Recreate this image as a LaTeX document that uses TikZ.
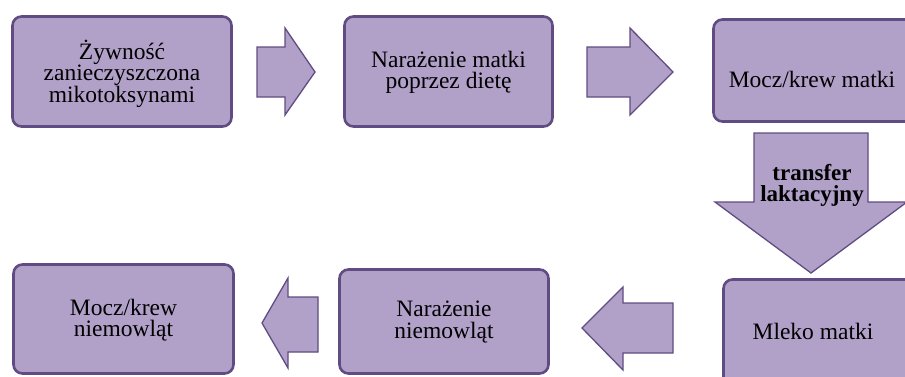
\documentclass[tikz,border=0pt]{standalone}
\usepackage{fontspec}
\setmainfont{Liberation Serif}
\definecolor{boxfill}{RGB}{177,161,201}
\definecolor{boxline}{RGB}{96,76,130}
\begin{document}
\begin{tikzpicture}[x=1pt,y=-1pt,
  box/.style={draw=boxline, line width=2.6pt, fill=boxfill, rounded corners=9pt, inner sep=0pt},
  txt/.style={align=center, inner sep=0pt, font=\fontsize{23.5}{21.5}\selectfont, text=black},
  btxt/.style={align=center, inner sep=0pt, font=\fontsize{23}{21}\selectfont\bfseries, text=black},
  blockarrow/.style={draw=boxline, line width=1.3pt, fill=boxfill, line join=miter}]
\useasboundingbox (0,0) rectangle (905,376);
\clip (0,0) rectangle (905,376);
\fill[white] (0,0) rectangle (905,376);
% boxes
\node[box, minimum width=219pt, minimum height=110pt] (b1) at (122,71.5) {};
\node[box, minimum width=208pt, minimum height=110pt] (b2) at (448.5,71.5) {};
\node[box, minimum width=205pt, minimum height=102pt] (b3) at (816,70.5) {};
\node[box, minimum width=190pt, minimum height=111pt] (b6) at (818.5,335) {};
\node[box, minimum width=209pt, minimum height=104pt] (b5) at (444,321.5) {};
\node[box, minimum width=220pt, minimum height=109pt] (b4) at (123.5,319) {};
% texts
\node[txt] (t1) at (122,73.5) {Żywność\\zanieczyszczona\\mikotoksynami};
\node[txt] (t2) at (448.5,72.5) {Narażenie matki\\poprzez dietę};
\node[txt] (t3) at (812,79) {Mocz/krew matki};
\node[txt] (t6) at (813,331) {Mleko matki};
\node[txt] (t5) at (444,322) {Narażenie\\niemowląt};
\node[txt] (t4) at (123.5,320) {Mocz/krew\\niemowląt};
% block arrows
\draw[blockarrow] (257,47) -- (285,47) -- (285,28) -- (315,72) -- (285,115) -- (285,97) -- (257,97) -- cycle;
\draw[blockarrow] (587,47) -- (630,47) -- (630,28) -- (673,72) -- (630,115) -- (630,97) -- (587,97) -- cycle;
\draw[blockarrow] (754,133) -- (868,133) -- (868,202) -- (907,202) -- (811,273) -- (715,202) -- (754,202) -- cycle;
\draw[blockarrow] (673,303) -- (623,303) -- (623,287) -- (582,328) -- (623,370) -- (623,353) -- (673,353) -- cycle;
\draw[blockarrow] (318,297) -- (288,297) -- (288,278) -- (262,323) -- (288,368) -- (288,352) -- (318,352) -- cycle;
\node[btxt] (tt) at (812,185) {transfer\\laktacyjny};
\end{tikzpicture}
\end{document}
